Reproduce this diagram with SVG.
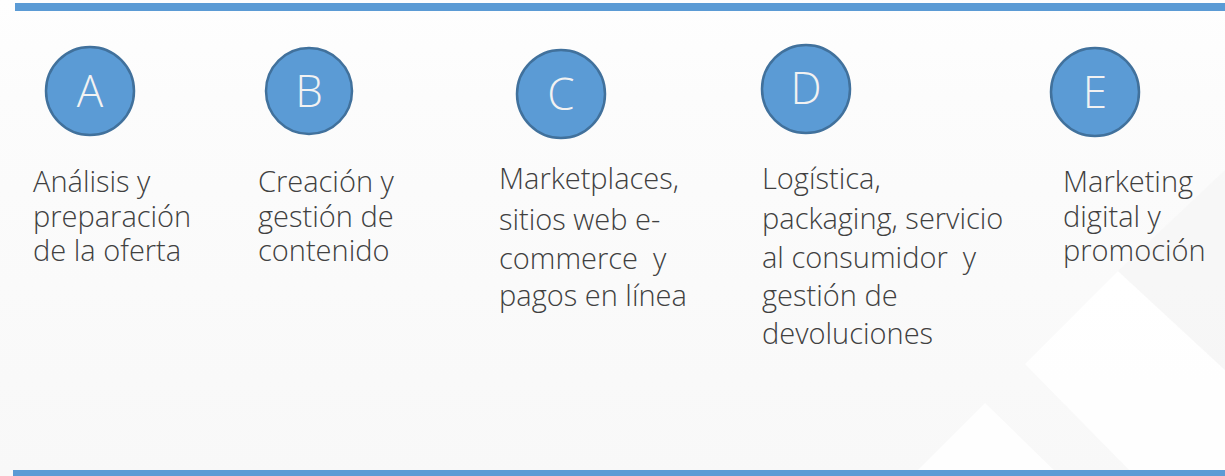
<svg xmlns="http://www.w3.org/2000/svg" width="1225" height="476" viewBox="0 0 1225 476">
<defs>
<linearGradient id="bg" x1="0" y1="0" x2="0" y2="1">
<stop offset="0" stop-color="#fefefe"/>
<stop offset="0.2" stop-color="#fcfcfc"/>
<stop offset="1" stop-color="#f8f8f8"/>
</linearGradient>
<style>
.bar{fill:#5b9bd5}
.circ{fill:#5b9bd5;stroke:#41719c;stroke-width:2.5}
.letter{font-family:"Open Sans","Liberation Sans",sans-serif;font-weight:300;font-size:44px;fill:#f2f2f2;text-anchor:middle}
.lbl{font-family:"Open Sans","Liberation Sans",sans-serif;font-weight:300;font-size:29px;fill:#404040;white-space:pre}
.deco{fill:#ffffff}
</style>
</defs>
<rect width="1225" height="476" fill="url(#bg)"/>
<g id="decoration">
<polygon class="deco" points="1118,271 1225,370 1225,476 1135,476 1025,364" opacity="0.85"/>
<polygon class="deco" points="985,403 1060,476 912,476" opacity="0.85"/>
<polygon points="1118,271 1225,170 1225,370" fill="#f4f4f4" opacity="0.5"/>
</g>
<rect class="bar" x="15" y="3" width="1210" height="8"/>
<rect class="bar" x="13" y="470" width="1212" height="6"/>
<g id="nodeA">
<circle class="circ" cx="90" cy="91" r="44"/>
<text class="letter" x="90" y="107">A</text>
<text class="lbl" x="33" y="192">Análisis y</text>
<text class="lbl" x="33" y="227">preparación</text>
<text class="lbl" x="33" y="261">de la oferta</text>
</g>
<g id="nodeB">
<circle class="circ" cx="309" cy="91" r="43"/>
<text class="letter" x="309" y="107">B</text>
<text class="lbl" x="258" y="192">Creación y</text>
<text class="lbl" x="258" y="227">gestión de</text>
<text class="lbl" x="258" y="261">contenido</text>
</g>
<g id="nodeC">
<circle class="circ" cx="561" cy="94" r="44"/>
<text class="letter" x="561" y="110">C</text>
<text class="lbl" x="499" y="189">Marketplaces,</text>
<text class="lbl" x="499" y="230">sitios web e-</text>
<text class="lbl" x="499" y="269">commerce  y</text>
<text class="lbl" x="499" y="306">pagos en línea</text>
</g>
<g id="nodeD">
<circle class="circ" cx="806" cy="89" r="44"/>
<text class="letter" x="806" y="104">D</text>
<text class="lbl" x="762" y="189">Logística,</text>
<text class="lbl" x="762" y="229">packaging, servicio</text>
<text class="lbl" x="762" y="268">al consumidor  y</text>
<text class="lbl" x="762" y="306">gestión de</text>
<text class="lbl" x="762" y="344">devoluciones</text>
</g>
<g id="nodeE">
<circle class="circ" cx="1095" cy="92" r="44"/>
<text class="letter" x="1095" y="108">E</text>
<text class="lbl" x="1063" y="192">Marketing</text>
<text class="lbl" x="1063" y="227">digital y</text>
<text class="lbl" x="1063" y="261">promoción</text>
</g>
<g id="connectors"/>
</svg>
